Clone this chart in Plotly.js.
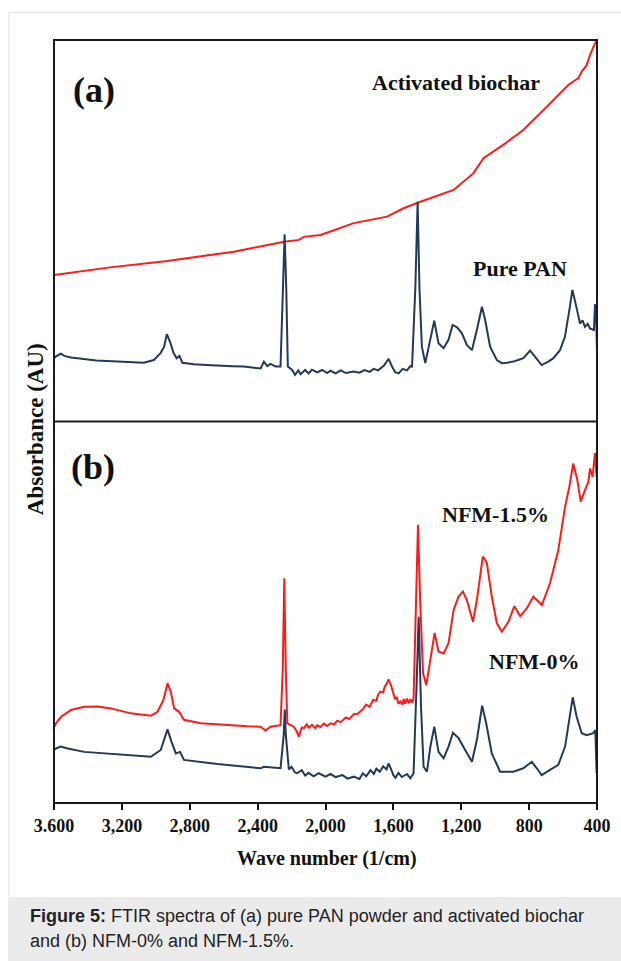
<!DOCTYPE html>
<html>
<head>
<meta charset="utf-8">
<script src="https://cdn.plot.ly/plotly-3.0.1.min.js"></script>
<style>
  html, body { margin: 0; padding: 0; background: #ffffff; }
  #chart { width: 621px; height: 961px; }
</style>
</head>
<body>
<div id="chart"></div>
<script>
// ---------- Data ----------
// Panel (a): activated biochar (red)
const biocharWn = [3600, 3270, 2932, 2540, 2245, 2157, 2128, 2030, 1971, 1834, 1637, 1540, 1441, 1245, 1128, 1069, 953, 834, 696, 569, 510, 490, 461, 441, 412, 400];
const biocharAbs = [38.4, 40.4, 42.1, 44.5, 47.1, 47.6, 48.4, 48.9, 49.8, 52.0, 53.7, 55.9, 57.6, 60.7, 65.1, 69.0, 72.5, 76.4, 82.5, 88.2, 90.0, 91.7, 93.4, 96.1, 99.1, 100];

// Panel (a): pure PAN (navy)
const panWn = [3598, 3590, 3560, 3539, 3500, 3422, 3350, 3225, 3150, 3071, 3012, 2971, 2951, 2935, 2916, 2896, 2877, 2861, 2843, 2775, 2700, 2637, 2550, 2481, 2420, 2382, 2363, 2343, 2324, 2294, 2265, 2249, 2241, 2231, 2222, 2196, 2180, 2160, 2147, 2120, 2100, 2080, 2049, 2020, 1990, 1971, 1940, 1910, 1880, 1834, 1800, 1770, 1740, 1716, 1690, 1657, 1628, 1608, 1590, 1569, 1545, 1520, 1500, 1490, 1471, 1457, 1446, 1432, 1412, 1383, 1359, 1334, 1304, 1275, 1251, 1225, 1196, 1167, 1137, 1108, 1078, 1059, 1030, 990, 961, 930, 893, 860, 834, 794, 765, 745, 726, 687, 657, 618, 589, 563, 545, 524, 500, 485, 471, 455, 441, 418, 412, 406, 400];
const panAbs = [16.6, 17.0, 17.8, 17.2, 16.8, 16.4, 16.0, 15.7, 15.6, 15.4, 16.1, 18.0, 19.6, 22.9, 20.9, 18.0, 16.6, 17.2, 15.4, 15.0, 14.8, 14.6, 14.5, 14.4, 14.1, 13.9, 15.7, 14.5, 15.1, 14.4, 14.4, 34.5, 49.1, 34.5, 14.4, 13.5, 12.2, 13.4, 12.4, 13.5, 12.6, 13.6, 12.9, 13.5, 12.7, 13.3, 12.6, 13.4, 12.7, 13.1, 12.8, 13.5, 13.0, 13.8, 13.4, 14.6, 16.4, 14.4, 12.9, 12.6, 13.8, 13.4, 14.5, 14.4, 34.5, 57.6, 34.5, 19.6, 15.3, 21.4, 26.4, 20.5, 19.2, 21.4, 25.3, 24.7, 23.1, 20.1, 18.7, 24.0, 30.1, 26.6, 19.6, 16.1, 15.3, 15.4, 15.7, 16.2, 16.6, 18.6, 17.0, 15.6, 14.8, 15.7, 16.6, 18.7, 22.2, 29.2, 34.5, 30.5, 25.7, 26.5, 24.8, 25.6, 24.4, 24.0, 30.5, 30.4, 18.0];

// Panel (b): NFM-1.5% (red)
const nfm15Wn = [3598, 3588, 3559, 3500, 3422, 3340, 3265, 3200, 3147, 3029, 2990, 2955, 2931, 2912, 2892, 2863, 2834, 2735, 2640, 2540, 2460, 2382, 2353, 2324, 2265, 2252, 2243, 2234, 2225, 2187, 2170, 2157, 2140, 2128, 2110, 2100, 2080, 2060, 2049, 2030, 2010, 1990, 1971, 1950, 1931, 1910, 1880, 1860, 1834, 1810, 1780, 1760, 1740, 1720, 1700, 1690, 1677, 1660, 1650, 1640, 1628, 1615, 1598, 1590, 1580, 1570, 1559, 1545, 1540, 1530, 1520, 1510, 1500, 1490, 1481, 1465, 1455, 1441, 1425, 1406, 1382, 1357, 1334, 1304, 1275, 1245, 1216, 1190, 1167, 1131, 1108, 1088, 1073, 1060, 1049, 1020, 990, 961, 922, 887, 853, 814, 775, 725, 677, 628, 588, 563, 540, 516, 496, 471, 451, 441, 426, 412, 402];
const nfm15Abs = [20.0, 20.9, 22.6, 24.4, 25.2, 25.3, 24.8, 24.0, 23.5, 22.9, 23.9, 27.0, 31.4, 29.2, 24.8, 23.9, 21.8, 20.9, 20.6, 20.3, 20.1, 20.0, 19.0, 20.0, 20.4, 35.0, 58.9, 35.0, 20.9, 20.0, 18.8, 17.4, 19.8, 19.6, 20.6, 19.8, 20.5, 19.6, 20.4, 19.9, 20.8, 20.2, 20.9, 20.6, 21.6, 21.2, 22.4, 22.0, 23.3, 23.4, 24.6, 25.8, 25.2, 27.0, 26.8, 28.4, 29.2, 29.0, 30.6, 31.2, 32.4, 31.0, 28.8, 27.2, 27.8, 26.0, 26.6, 25.8, 27.3, 26.0, 27.4, 26.1, 27.2, 26.3, 27.4, 51.5, 72.9, 51.5, 34.0, 30.9, 37.5, 44.6, 39.7, 39.2, 41.9, 50.6, 54.1, 55.4, 53.2, 47.5, 53.2, 60.2, 64.6, 63.8, 62.8, 54.1, 47.1, 44.9, 47.5, 51.6, 49.0, 51.0, 54.1, 51.9, 57.6, 66.3, 77.7, 82.9, 89.0, 84.7, 79.0, 82.0, 84.2, 87.7, 85.5, 91.7, 85.5];

// Panel (b): NFM-0% (navy)
const nfm0Wn = [3598, 3588, 3560, 3519, 3422, 3225, 3029, 2971, 2931, 2908, 2882, 2857, 2834, 2637, 2382, 2363, 2265, 2246, 2240, 2234, 2216, 2200, 2180, 2167, 2140, 2120, 2100, 2070, 2040, 2000, 1971, 1940, 1900, 1870, 1834, 1800, 1780, 1760, 1735, 1715, 1700, 1680, 1660, 1640, 1628, 1615, 1600, 1588, 1570, 1550, 1520, 1500, 1481, 1461, 1451, 1437, 1422, 1402, 1382, 1359, 1334, 1304, 1275, 1249, 1216, 1177, 1137, 1108, 1077, 1053, 1020, 971, 893, 834, 784, 755, 726, 677, 628, 588, 563, 543, 520, 490, 461, 422, 410, 402];
const nfm0Abs = [14.0, 14.3, 14.8, 14.3, 13.4, 12.8, 12.1, 13.9, 19.3, 16.1, 13.0, 13.4, 11.3, 10.2, 9.1, 9.5, 9.1, 18.0, 24.5, 18.0, 8.8, 9.5, 8.0, 7.8, 8.6, 7.2, 7.9, 7.0, 7.8, 6.9, 7.6, 6.8, 7.3, 6.4, 6.9, 6.3, 7.8, 7.0, 8.6, 7.6, 9.0, 8.2, 9.6, 8.8, 10.4, 9.0, 7.3, 6.6, 7.9, 6.8, 7.6, 6.5, 7.8, 34.0, 48.8, 25.2, 9.5, 8.2, 14.8, 20.0, 13.4, 11.7, 14.8, 18.4, 17.0, 13.9, 10.8, 16.5, 25.5, 20.9, 13.0, 8.2, 8.2, 9.1, 10.8, 9.1, 7.3, 8.7, 10.0, 14.8, 22.6, 27.7, 22.6, 18.3, 17.8, 18.3, 19.1, 7.8];

// Axis ticks
const tickValues = [3600, 3200, 2800, 2400, 2000, 1600, 1200, 800, 400];
const tickLabels = ["3.600", "3,200", "2,800", "2,400", "2,000", "1,600", "1,200", "800", "400"];

// ---------- Styles ----------
const RED = "#ff1a1a";
const NAVY = "#22395a";
const SERIF = "Liberation Serif, Times New Roman, serif";
const SANS = "Liberation Sans, Arial, sans-serif";

const traces = [
  { x: biocharWn, y: biocharAbs, xaxis: "x", yaxis: "y", mode: "lines",
    line: { color: RED, width: 2 }, hoverinfo: "skip", name: "Activated biochar" },
  { x: panWn, y: panAbs, xaxis: "x", yaxis: "y", mode: "lines",
    line: { color: NAVY, width: 2 }, hoverinfo: "skip", name: "Pure PAN" },
  { x: nfm15Wn, y: nfm15Abs, xaxis: "x", yaxis: "y2", mode: "lines",
    line: { color: RED, width: 2 }, hoverinfo: "skip", name: "NFM-1.5%" },
  { x: nfm0Wn, y: nfm0Abs, xaxis: "x", yaxis: "y2", mode: "lines",
    line: { color: NAVY, width: 2 }, hoverinfo: "skip", name: "NFM-0%" }
];

const layout = {
  width: 621, height: 961,
  margin: { l: 54, r: 24, t: 40, b: 158 },
  paper_bgcolor: "#ffffff", plot_bgcolor: "#ffffff",
  showlegend: false,
  xaxis: {
    range: [3600, 400], anchor: "y2", domain: [0, 1],
    tickmode: "array", tickvals: tickValues,
    ticktext: tickLabels.map(t => "<b>" + t + "</b>"),
    ticks: "outside", ticklen: 6, tickwidth: 2, tickcolor: "#111111",
    showgrid: false, zeroline: false, showline: false,
    tickfont: { family: SERIF, size: 18, color: "#111111" }
  },
  yaxis: { domain: [0.5, 1], range: [0, 100], visible: false, anchor: "x" },
  yaxis2: { domain: [0, 0.5], range: [0, 100], visible: false, anchor: "x" },
  shapes: [
    // outer figure border
    { type: "rect", xref: "paper", yref: "paper", x0: -0.0829, x1: 1.06, y0: -0.215, y1: 1.036,
      line: { color: "#dedede", width: 1 }, fillcolor: "rgba(0,0,0,0)", layer: "below" },
    // caption background
    { type: "rect", xref: "paper", yref: "paper", x0: -0.0829, x1: 1.06, y0: -0.215, y1: -0.1232,
      line: { width: 0 }, fillcolor: "#ebebeb", layer: "below" },
    // plot frame
    { type: "rect", xref: "paper", yref: "paper", x0: 0, x1: 1, y0: 0, y1: 1,
      line: { color: "#1a1a1a", width: 2 }, fillcolor: "rgba(0,0,0,0)" },
    // divider between panels
    { type: "line", xref: "paper", yref: "paper", x0: 0, x1: 1, y0: 0.5, y1: 0.5,
      line: { color: "#1a1a1a", width: 2 } }
  ],
  annotations: [
    { text: "<b>(a)</b>", xref: "paper", yref: "paper", x: 0.0736, y: 0.934, showarrow: false,
      xanchor: "center", yanchor: "middle", font: { family: SERIF, size: 36, color: "#111111" } },
    { text: "<b>(b)</b>", xref: "paper", yref: "paper", x: 0.0718, y: 0.441, showarrow: false,
      xanchor: "center", yanchor: "middle", font: { family: SERIF, size: 36, color: "#111111" } },
    { text: "<b>Activated biochar</b>", xref: "paper", yref: "paper", x: 0.741, y: 0.944, showarrow: false,
      xanchor: "center", yanchor: "middle", font: { family: SERIF, size: 22, color: "#111111" } },
    { text: "<b>Pure PAN</b>", xref: "paper", yref: "paper", x: 0.858, y: 0.701, showarrow: false,
      xanchor: "center", yanchor: "middle", font: { family: SERIF, size: 22, color: "#111111" } },
    { text: "<b>NFM-1.5%</b>", xref: "paper", yref: "paper", x: 0.8125, y: 0.3775, showarrow: false,
      xanchor: "center", yanchor: "middle", font: { family: SERIF, size: 22, color: "#111111" } },
    { text: "<b>NFM-0%</b>", xref: "paper", yref: "paper", x: 0.884, y: 0.185, showarrow: false,
      xanchor: "center", yanchor: "middle", font: { family: SERIF, size: 22, color: "#111111" } },
    { text: "<b>Absorbance (AU)</b>", xref: "paper", yref: "paper", x: -0.035, y: 0.49, showarrow: false,
      textangle: -90, xanchor: "center", yanchor: "middle", font: { family: SERIF, size: 23, color: "#111111" } },
    { text: "<b>Wave number (1/cm)</b>", xref: "paper", yref: "paper", x: 0.503, y: -0.0721, showarrow: false,
      xanchor: "center", yanchor: "middle", font: { family: SERIF, size: 20, color: "#111111" } },
    { text: "<b>Figure 5:</b> FTIR spectra of (a) pure PAN powder and activated biochar", xref: "paper", yref: "paper",
      x: -0.0479, y: -0.1481, showarrow: false, xanchor: "left", yanchor: "middle", align: "left",
      font: { family: SANS, size: 18, color: "#222222" } },
    { text: "and (b) NFM-0% and NFM-1.5%.", xref: "paper", yref: "paper",
      x: -0.0479, y: -0.1809, showarrow: false, xanchor: "left", yanchor: "middle", align: "left",
      font: { family: SANS, size: 18, color: "#222222" } }
  ]
};

Plotly.newPlot("chart", traces, layout, { staticPlot: true, displayModeBar: false });
</script>
</body>
</html>
